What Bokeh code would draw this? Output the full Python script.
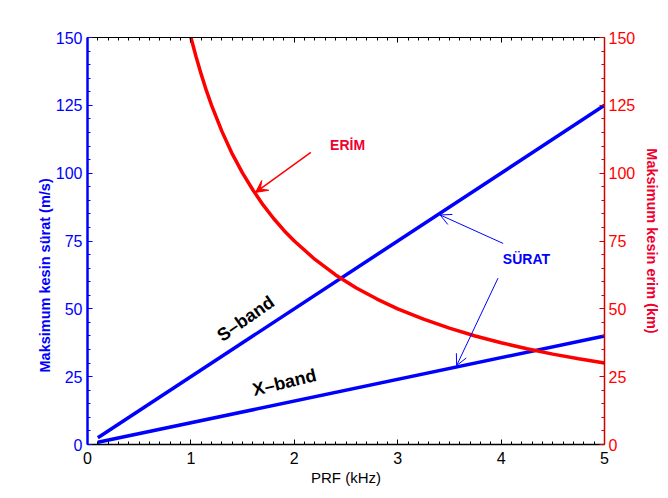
from bokeh.plotting import figure
from bokeh.models import (Range1d, LinearAxis, SingleIntervalTicker, Label, Arrow,
                          OpenHead, VeeHead, Title, CustomJSTickFormatter)
from bokeh.embed import file_html
from bokeh.resources import INLINE

# ---- data ----
s_band_prf = [0.1, 5.0]
s_band_speed = [2.5, 125.0]
x_band_prf = [0.1, 5.0]
x_band_speed = [0.8, 40.0]
range_prf = [1.0, 1.05, 1.1, 1.15, 1.2, 1.3, 1.4, 1.5, 1.6, 1.7, 1.8, 1.9, 2.0,
             2.2, 2.4, 2.6, 2.8, 3.0, 3.25, 3.5, 3.75, 4.0, 4.25, 4.5, 4.75, 5.0]
range_km = [150.0, 142.9, 136.4, 130.4, 125.0, 115.4, 107.1, 100.0, 93.8, 88.2,
            83.3, 78.9, 75.0, 68.2, 62.5, 57.7, 53.6, 50.0, 46.2, 42.9, 40.0,
            37.5, 35.3, 33.3, 31.6, 30.0]
x_ticks_major = 1
y_ticks_major = 25

FONT = "Liberation Sans"
BLUE = "#0000ff"
RED = "#ff0000"
CRIMSON = "#f00030"

p = figure(width=668, height=498, output_backend="svg", toolbar_location=None,
           x_range=Range1d(0, 5), y_range=Range1d(0, 150),
           x_axis_location=None, y_axis_location=None,
           min_border_left=87, min_border_right=64, min_border_top=37,
           min_border_bottom=54)
p.outline_line_color = None
p.xgrid.visible = False
p.ygrid.visible = False
p.extra_y_ranges = {"erim": Range1d(0, 150)}

def style(ax, color, lw):
    ax.axis_line_color = color
    ax.axis_line_width = lw
    ax.major_tick_line_color = color
    ax.minor_tick_line_color = color
    ax.major_tick_in = 5
    ax.major_tick_out = 0
    ax.minor_tick_in = 3
    ax.minor_tick_out = 0
    ax.major_label_text_font = FONT
    ax.major_label_text_font_size = "16px"

# bottom axis
xb = LinearAxis(ticker=SingleIntervalTicker(interval=x_ticks_major, num_minor_ticks=10))
style(xb, "black", 1.5)
xb.major_label_text_color = "black"
xb.major_label_standoff = 7
xb.axis_label = "PRF (kHz)"
xb.axis_label_text_color = "black"
xb.axis_label_text_font = FONT
xb.axis_label_text_font_size = "15px"
xb.axis_label_text_font_style = "normal"
xb.axis_label_standoff = 2
p.add_layout(xb, "below")

# top axis (ticks only)
xt = LinearAxis(ticker=SingleIntervalTicker(interval=x_ticks_major, num_minor_ticks=10),
                formatter=CustomJSTickFormatter(code="return ''"))
style(xt, "black", 1)
xt.major_label_standoff = 0
p.add_layout(xt, "above")

# left axis
yl = LinearAxis(ticker=SingleIntervalTicker(interval=y_ticks_major, num_minor_ticks=5))
style(yl, BLUE, 2.5)
yl.major_label_text_color = BLUE
yl.major_label_standoff = 5
p.add_layout(yl, "left")

# left axis title, offset downward as in the reference
p.add_layout(Title(text="Maksimum kesin sürat (m/s)", align="left", offset=72,
                   standoff=0, text_color=BLUE, text_font=FONT,
                   text_font_size="14.5px", text_font_style="bold"), "left")

# right axis
yr = LinearAxis(y_range_name="erim",
                ticker=SingleIntervalTicker(interval=y_ticks_major, num_minor_ticks=5))
style(yr, "#d00000", 1.5)
yr.major_label_text_color = RED
yr.major_label_standoff = 4
yr.axis_label = "Maksimum kesin erim (km)"
yr.axis_label_text_color = CRIMSON
yr.axis_label_text_font = FONT
yr.axis_label_text_font_size = "14.5px"
yr.axis_label_text_font_style = "bold"
yr.axis_label_standoff = 6
p.add_layout(yr, "right")

# lines
p.line(s_band_prf, s_band_speed, line_color=BLUE, line_width=3.5)
p.line(x_band_prf, x_band_speed, line_color=BLUE, line_width=3.5)
p.line(range_prf, range_km, line_color=RED, line_width=3.5, y_range_name="erim")

# band labels
p.add_layout(Label(x=1.53, y=46.4, text="S\u2013band", angle=0.61,
                   text_align="center", text_baseline="middle", text_color="black",
                   text_font=FONT, text_font_size="18px", text_font_style="bold"))
p.add_layout(Label(x=1.905, y=22.85, text="X\u2013band", angle=0.24,
                   text_align="center", text_baseline="middle", text_color="black",
                   text_font=FONT, text_font_size="18px", text_font_style="bold"))

# ERİM annotation
p.add_layout(Label(x=2.515, y=110.5, text="ERİM", text_align="center",
                   text_baseline="middle", text_color=CRIMSON, text_font=FONT,
                   text_font_size="14px", text_font_style="bold"))
p.add_layout(Arrow(x_start=2.16, y_start=107.7, x_end=1.625, y_end=92.9,
                   line_color=RED, line_width=1.5,
                   end=VeeHead(size=12, fill_color=RED, line_color=RED, line_width=1)))

# SÜRAT annotation
p.add_layout(Label(x=4.245, y=68.2, text="SÜRAT", text_align="center",
                   text_baseline="middle", text_color=BLUE, text_font=FONT,
                   text_font_size="14px", text_font_style="bold"))
p.add_layout(Arrow(x_start=4.02, y_start=74.1, x_end=3.41, y_end=84.6,
                   line_color=BLUE, line_width=1,
                   end=OpenHead(size=11, line_color=BLUE, line_width=1)))
p.add_layout(Arrow(x_start=3.97, y_start=61.3, x_end=3.57, y_end=29.1,
                   line_color=BLUE, line_width=1,
                   end=OpenHead(size=11, line_color=BLUE, line_width=1)))

open("out.html", "w").write(file_html(p, INLINE))
